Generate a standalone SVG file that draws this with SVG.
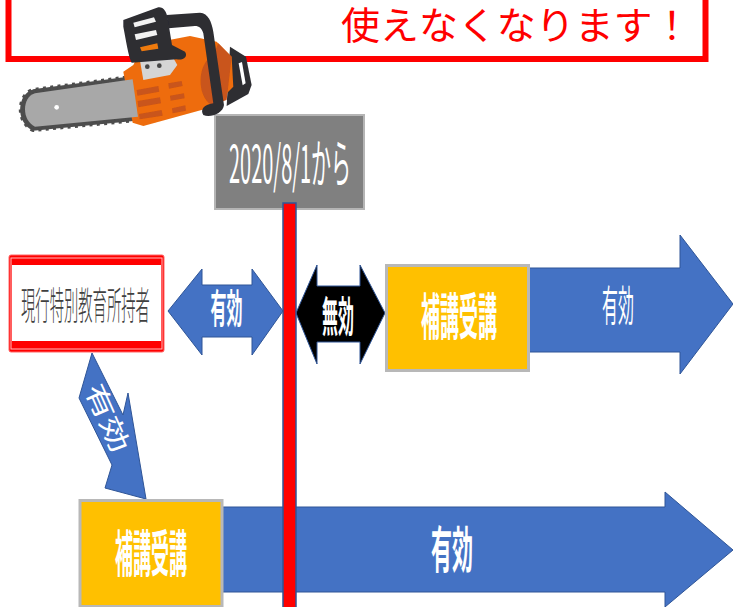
<svg xmlns="http://www.w3.org/2000/svg" width="733" height="607" viewBox="0 0 733 607">
<style>
text{font-family:"Noto Sans CJK JP","Liberation Sans",sans-serif}
.w{fill:#fff;font-weight:700}
.l{fill:#fff;font-weight:400}
.m{text-anchor:middle}
.blue{fill:#4472c4;stroke:#2f5597;stroke-width:1}
.gold{fill:#ffc000;stroke:#b8b8b8;stroke-width:3}
</style>
<defs><filter id="soft" x="-5%" y="-5%" width="110%" height="110%"><feGaussianBlur stdDeviation="0.5"/></filter></defs>
<rect width="733" height="607" fill="#fff"/>
<g id="banner">
<rect x="8.500" y="-10" width="697" height="69" fill="#fff" stroke="#f00" stroke-width="6"/>
<text transform="translate(341 39) scale(1.025 1)" font-size="38" fill="#f00">使えなくなります！</text>
</g>
<g id="date">
<rect x="215" y="115" width="149" height="94" fill="#808080" stroke="#b5b5b5" stroke-width="2"/>
<text class="l" transform="translate(229 183) scale(.384 1)" font-size="52">2020/8/1から</text>
</g>
<g id="connectors">
<polygon class="blue" points="168,311 202,269 202,285 252,285 252,269 283,311 252,355 252,337 202,337 202,355"/>
<polygon points="296,313 317,265 317,286 360,286 360,265 385,313 360,364 360,342 317,342 317,364" fill="#000" stroke="#2f5597"/>
<polygon class="blue" points="527,268 680,268 680,235 733,304 680,374 680,352 527,352"/>
<polygon class="blue" points="220,507 665,507 665,492 733,550 665,607 665,592 220,592"/>
<polygon class="blue" points="92,353 79,398 112,465 105,488 146,499 128,393 123,415"/>
<rect x="283" y="203" width="13" height="410" fill="#f00" stroke="#2f5597" stroke-width="1.5"/>
<text class="w m" font-size="40" transform="translate(226.500 323) scale(.4 1)">有効</text>
<text class="w m" font-size="42" transform="translate(338 332) scale(.38 1)">無効</text>
<text class="l m" font-size="42" transform="translate(618 321) scale(.38 1)">有効</text>
<text class="w m" font-size="50" transform="translate(452 568) scale(.42 1)">有効</text>
<text class="l m" font-size="26" transform="translate(107 418) rotate(66) scale(1.38 1)" y="9">有効</text>
</g>
<g id="current">
<rect x="9" y="255" width="155" height="97" rx="2" fill="#f00" stroke="#f66" stroke-width="1"/>
<rect x="11" y="258" width="151" height="91" fill="none" stroke="#fbb" stroke-width="1"/>
<rect x="12" y="265" width="149" height="76" fill="#fff"/>
<text transform="translate(21 319) scale(.377 1)" font-size="38" font-weight="300" fill="#404040">現行特別教育所持者</text>
</g>
<g id="course1">
<rect class="gold" x="386.500" y="265.500" width="142" height="105"/>
<text class="w" transform="translate(421 335) scale(.38 1)" font-size="50">補講受講</text>
</g>
<g id="course2">
<rect class="gold" x="80" y="500.500" width="142" height="106"/>
<text class="w" transform="translate(115 572) scale(.36 1)" font-size="50">補講受講</text>
</g>
<g id="chainsaw" transform="scale(.3333)" filter="url(#soft)">
<path d="M400,232 L100,272 C55,285 50,365 100,388 L412,358 Z" fill="#4d4d4d" stroke="#4d4d4d" stroke-width="8"/>
<path d="M400,232 L100,272 C55,285 50,365 100,388 L412,358" fill="none" stroke="#4d4d4d" stroke-width="16" stroke-dasharray="9 13"/>
<path d="M690,140 L738,170 L755,255 L745,282 L680,318 Z" fill="#2d2d33"/>
<path d="M716,190 L726,186 L737,250 L728,256 Z" fill="#fff"/>
<path d="M370,215 L400,195 L430,135 L570,108 L650,125 L695,170 L700,260 L640,320 L430,378 L398,368 Z" fill="#ee6c0a"/>
<path d="M640,165 C590,190 590,290 635,315 L680,300 L695,170 L655,130 Z" fill="#c9541a"/>
<path d="M398,238 L105,280 C65,292 65,362 105,380 L414,350 Z" fill="#a8a8a8"/>
<circle cx="170" cy="322" r="7" fill="#fff"/>
<g fill="#c9541a"><path d="M410,270 L475,258 L478,275 L412,287 Z"/><path d="M413,303 L480,292 L483,310 L415,322 Z"/><path d="M417,342 L485,330 L488,347 L419,358 Z"/><path d="M505,250 L545,243 L548,258 L507,266 Z"/><path d="M510,287 L552,280 L554,295 L512,302 Z"/><path d="M516,325 L556,316 L558,332 L518,340 Z"/></g>
<path d="M420,182 L515,165 L532,195 L510,225 L430,240 Z" fill="#d5d5d5"/>
<circle cx="442" cy="200" r="7" fill="#444"/><circle cx="478" cy="197" r="7" fill="#444"/>
<path d="M500,45 L600,38 C625,40 635,65 640,95 L672,315 C670,340 630,355 610,345 C600,330 610,315 640,310 L610,100 C605,85 598,78 585,78 L505,85 Z" fill="#2d2d33"/>
<path d="M370,60 L475,22 C490,20 500,35 503,55 L516,135 L555,155 C565,170 550,182 530,178 L395,188 C385,170 378,120 370,80 Z" fill="#2d2d33"/>
<g fill="#f2f2f2"><path d="M400,68 L462,52 L468,65 L404,82 Z"/><path d="M404,103 L468,90 L472,105 L408,120 Z"/></g>
<path d="M420,142 L472,130 L475,146 L425,154 Z" fill="#ee7a10"/>
</g>
</svg>
